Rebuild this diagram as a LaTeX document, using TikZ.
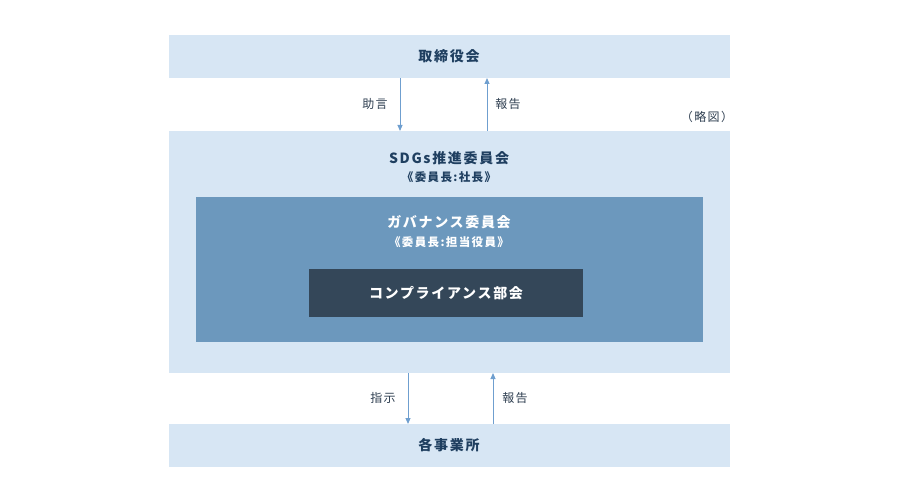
\documentclass[tikz,border=0pt]{standalone}
\usepackage{fontspec}
\setmainfont{Noto Sans CJK JP}[LetterSpace=12]
\usetikzlibrary{arrows.meta}
\definecolor{lightbg}{HTML}{D7E6F4}
\definecolor{midbg}{HTML}{6C98BD}
\definecolor{darkbg}{HTML}{344759}
\definecolor{navy}{HTML}{1F3F60}
\definecolor{arrowc}{HTML}{6F9FCF}
\definecolor{labelc}{HTML}{2E3E50}
\tikzset{
  title/.style={font=\fontsize{14}{16}\selectfont\bfseries, text=navy, inner sep=0pt},
  sub/.style={font=\fontsize{11.5}{13}\selectfont\bfseries, text=navy, inner sep=0pt},
  lbl/.style={font=\fontsize{12}{14}\selectfont, text=labelc, inner sep=0pt},
  flow/.style={draw=arrowc, line width=1pt, -{Triangle[width=5pt,length=6pt]}},
}
\begin{document}
\begin{tikzpicture}[x=1pt,y=-1pt]
\useasboundingbox (0,0) rectangle (900,500);
% boxes
\fill[lightbg] (169,35) rectangle (730,78);
\fill[lightbg] (169,131) rectangle (730,373);
\fill[midbg] (196,197) rectangle (703,342);
\fill[darkbg] (309,269) rectangle (583,317);
\fill[lightbg] (169,424) rectangle (730,467);
% texts
\node[title] (board) at (449,56) {取締役会};
\node[title] (sdgs) at (449,158) {SDGs推進委員会};
\node[sub] (sdgssub) at (449,177) {《委員長:社長》};
\node[title, text=white] (gov) at (449,222) {ガバナンス委員会};
\node[sub, text=white] (govsub) at (449,242) {《委員長:担当役員》};
\node[title, text=white] (comp) at (446,293) {コンプライアンス部会};
\node[title] (office) at (449,445) {各事業所};
% arrow endpoints
\coordinate (a1s) at (400,78);  \coordinate (a1e) at (400,131);
\coordinate (a2s) at (487,131); \coordinate (a2e) at (487,78);
\coordinate (a3s) at (408,373); \coordinate (a3e) at (408,424);
\coordinate (a4s) at (493,424); \coordinate (a4e) at (493,373);
\draw[flow] (a1s) -- (a1e);
\draw[flow] (a2s) -- (a2e);
\draw[flow] (a3s) -- (a3e);
\draw[flow] (a4s) -- (a4e);
% labels
\node[lbl] (l1) at (375,104) {助言};
\node[lbl] (l2) at (508,104) {報告};
\node[lbl] (l3) at (383,398) {指示};
\node[lbl] (l4) at (515,398) {報告};
\node[lbl] (note) at (707,117) {（略図）};
\end{tikzpicture}
\end{document}
